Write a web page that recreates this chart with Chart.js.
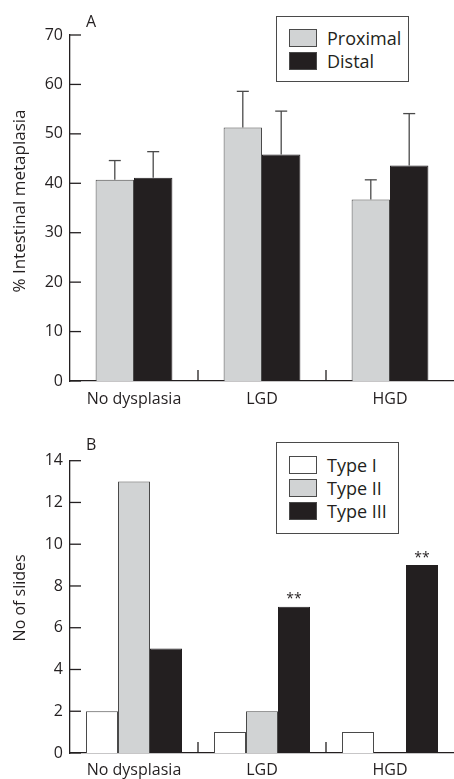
<!DOCTYPE html>
<html><head><meta charset="utf-8">
<script src="https://cdn.jsdelivr.net/npm/chart.js@4/dist/chart.umd.min.js"></script>
<style>
html,body{margin:0;padding:0;background:#fff;width:454px;height:779px;overflow:hidden;font-family:'Open Sans',sans-serif;color:#231f20;}
.wrap{position:absolute;left:0;width:454px;}
#wrapA{top:0;height:410px;}
#wrapB{top:410px;height:369px;}
canvas{position:absolute;left:0;top:0;}
.panel{position:absolute;font-size:16px;line-height:16px;}
.legend{position:absolute;border:1px solid #4a4a4a;background:#fff;box-sizing:border-box;}
.sw{position:absolute;width:28px;height:18px;box-sizing:border-box;border:1px solid #4a4a4a;}
.lt{position:absolute;font-size:18px;line-height:18px;white-space:nowrap;}
</style></head>
<body>
<div id="wrapA" class="wrap"><canvas id="cA" width="454" height="410"></canvas>
  <div class="panel" style="left:86px;top:12.5px;">A</div>
  <div id="legA" class="legend" style="left:276px;top:16px;width:133px;height:66px;"></div>
</div>
<div id="wrapB" class="wrap"><canvas id="cB" width="454" height="369"></canvas>
  <div class="panel" style="left:86px;top:26px;">B</div>
  <div id="legB" class="legend" style="left:276px;top:32px;width:123px;height:92px;"></div>
</div>
<script>
// ---- data ----
const categories = ['No dysplasia', 'LGD', 'HGD'];
// Panel A: % intestinal metaplasia (mean and upper error)
const proximal = [40.7, 51.3, 36.7];
const proximalErr = [3.9, 7.3, 4.0];
const distal = [41.1, 45.8, 43.6];
const distalErr = [5.3, 8.8, 10.5];
// Panel B: number of slides
const typeI = [2, 1, 1];
const typeII = [13, 2, 0];
const typeIII = [5, 7, 9];
const typeIIIMarks = ['', '**', '**'];
const yTitleA = '% Intestinal metaplasia';
const yTitleB = 'No of slides';

const INK = '#231f20';
const GREY = '#d1d3d4';
const EDGE = '#4a4a4a';
const FONT = "'Open Sans', sans-serif";

function line(ctx, x1, y1, x2, y2) { ctx.beginPath(); ctx.moveTo(x1, y1); ctx.lineTo(x2, y2); ctx.stroke(); }

const decor = {
  id: 'decor',
  afterDatasetsDraw(chart, args, opts) {
    const ctx = chart.ctx, x = chart.scales.x, y = chart.scales.y, ca = chart.chartArea;
    ctx.save();
    ctx.strokeStyle = INK; ctx.lineWidth = 1.3;
    // inward tick marks on y axis
    y.ticks.forEach((t, i) => { const py = y.getPixelForTick(i); line(ctx, ca.left, py, ca.left + 11, py); });
    // separators between categories
    for (let i = 0; i < x.ticks.length - 1; i++) {
      const px = (x.getPixelForTick(i) + x.getPixelForTick(i + 1)) / 2;
      line(ctx, px, ca.bottom, px, ca.bottom - 11);
    }
    // error bars (upper only)
    (opts.errors || []).forEach(e => {
      const meta = chart.getDatasetMeta(e.dataset);
      const vals = chart.data.datasets[e.dataset].data;
      ctx.strokeStyle = EDGE; ctx.lineWidth = 1.3;
      meta.data.forEach((bar, i) => {
        const top = y.getPixelForValue(vals[i] + e.err[i]);
        line(ctx, bar.x, bar.y, bar.x, top);
        line(ctx, bar.x - 6, top, bar.x + 6, top);
      });
    });
    // significance marks
    (opts.marks || []).forEach(m => {
      const meta = chart.getDatasetMeta(m.dataset);
      ctx.fillStyle = INK; ctx.font = '14px ' + FONT; ctx.textAlign = 'center'; ctx.textBaseline = 'alphabetic';
      meta.data.forEach((bar, i) => { if (m.text[i]) ctx.fillText(m.text[i], bar.x, bar.y - 3.5); });
    });
    // rotated y-axis title
    if (opts.title) {
      ctx.translate(opts.title.x, (ca.top + ca.bottom) / 2 - opts.title.shift);
      ctx.rotate(-Math.PI / 2);
      ctx.fillStyle = INK; ctx.font = opts.title.size + 'px ' + FONT;
      ctx.textAlign = 'center'; ctx.textBaseline = 'middle';
      ctx.fillText(opts.title.text, 0, 0);
    }
    ctx.restore();
  }
};

function makeOptions(ymax, step, xAxisH, padTop, labelPad, decorOpts) {
  return {
    responsive: false, animation: false, devicePixelRatio: 1,
    layout: { padding: { top: padTop, left: 0, right: 0, bottom: 0 } },
    plugins: { legend: { display: false }, tooltip: { enabled: false }, decor: decorOpts },
    scales: {
      x: {
        grid: { display: false, drawTicks: false },
        border: { display: true, color: INK, width: 1.3 },
        ticks: { color: INK, font: { family: FONT, size: 16 }, padding: labelPad },
        afterFit(s) { s.height = xAxisH; }
      },
      y: {
        min: 0, max: ymax,
        grid: { display: false, drawTicks: false },
        border: { display: true, color: INK, width: 1.3 },
        ticks: { stepSize: step, color: INK, font: { family: FONT, size: 16 }, padding: 7 },
        afterFit(s) { s.width = 70; }
      }
    }
  };
}

const hideZero = ctx => (ctx.raw === 0 ? 0 : 1);

new Chart(document.getElementById('cA'), {
  type: 'bar',
  data: {
    labels: categories,
    datasets: [
      { label: 'Proximal', data: proximal, backgroundColor: GREY, borderColor: EDGE, borderWidth: 1, categoryPercentage: 0.6, barPercentage: 1 },
      { label: 'Distal', data: distal, backgroundColor: INK, borderColor: INK, borderWidth: 1, categoryPercentage: 0.6, barPercentage: 1 }
    ]
  },
  options: makeOptions(70, 10, 29, 35, 8.5,
    { errors: [{ dataset: 0, err: proximalErr }, { dataset: 1, err: distalErr }],
      title: { text: yTitleA, size: 17, x: 20, shift: 7 } }),
  plugins: [decor]
});

new Chart(document.getElementById('cB'), {
  type: 'bar',
  data: {
    labels: categories,
    datasets: [
      { label: 'Type I', data: typeI, backgroundColor: '#ffffff', borderColor: EDGE, borderWidth: hideZero, categoryPercentage: 0.75, barPercentage: 1 },
      { label: 'Type II', data: typeII, backgroundColor: GREY, borderColor: EDGE, borderWidth: hideZero, categoryPercentage: 0.75, barPercentage: 1 },
      { label: 'Type III', data: typeIII, backgroundColor: INK, borderColor: INK, borderWidth: hideZero, categoryPercentage: 0.75, barPercentage: 1 }
    ]
  },
  options: makeOptions(14, 2, 26, 50.7, 7.5,
    { marks: [{ dataset: 2, text: typeIIIMarks }],
      title: { text: yTitleB, size: 16, x: 20, shift: 9 } }),
  plugins: [decor]
});

// HTML legends built from the dataset definitions
function buildLegend(el, items, firstTop, stepY) {
  items.forEach((it, i) => {
    const sw = document.createElement('div');
    sw.className = 'sw';
    sw.style.left = '12px';
    sw.style.top = (firstTop + i * stepY) + 'px';
    sw.style.background = it.color;
    el.appendChild(sw);
    const t = document.createElement('div');
    t.className = 'lt';
    t.style.left = '50px';
    t.style.top = (firstTop + i * stepY) + 'px';
    t.textContent = it.label;
    el.appendChild(t);
  });
}
buildLegend(document.getElementById('legA'), [{ label: 'Proximal', color: GREY }, { label: 'Distal', color: INK }], 12, 22.5);
buildLegend(document.getElementById('legB'), [{ label: 'Type I', color: '#ffffff' }, { label: 'Type II', color: GREY }, { label: 'Type III', color: INK }], 13, 23.2);
</script>
</body></html>
